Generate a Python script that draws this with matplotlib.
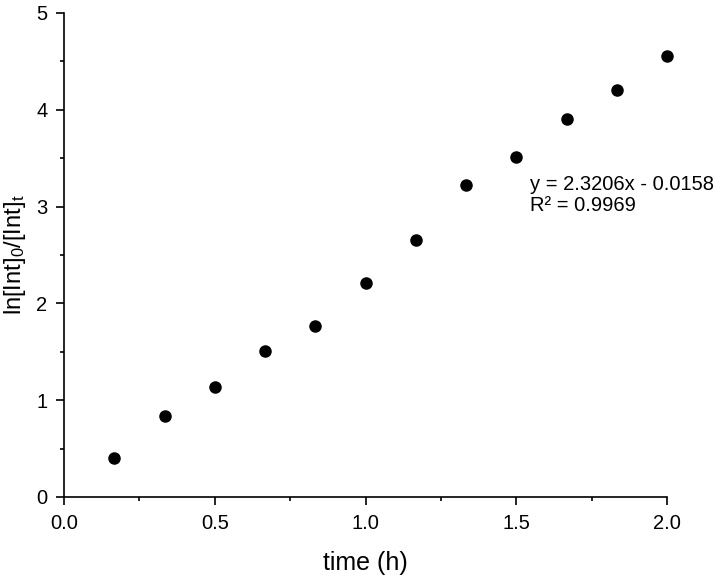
import matplotlib
matplotlib.use("Agg")
import matplotlib.pyplot as plt
from matplotlib.ticker import MultipleLocator, FormatStrFormatter

time_h = [1/6, 2/6, 3/6, 4/6, 5/6, 1.0, 7/6, 8/6, 9/6, 10/6, 11/6, 2.0]
ln_ratio = [0.40, 0.84, 1.14, 1.51, 1.77, 2.21, 2.66, 3.22, 3.51, 3.91, 4.20, 4.56]
eq_text = "y = 2.3206x - 0.0158\nR² = 0.9969"

plt.rcParams['font.family'] = ['Liberation Sans', 'DejaVu Sans']
plt.rcParams['mathtext.default'] = 'regular'

fig = plt.figure(figsize=(7.2, 5.76), dpi=100)
ax = fig.add_axes([64/720, 1-497/576, (667-64)/720, (497-13)/576])

ax.plot(time_h, ln_ratio, 'o', color='black', markersize=8, clip_on=False)

ax.set_xlim(0, 2.0)
ax.set_ylim(0, 5)
ax.xaxis.set_major_locator(MultipleLocator(0.5))
ax.xaxis.set_minor_locator(MultipleLocator(0.25))
ax.yaxis.set_major_locator(MultipleLocator(1))
ax.yaxis.set_minor_locator(MultipleLocator(0.5))
ax.xaxis.set_major_formatter(FormatStrFormatter('%.1f'))

for s in ['top', 'right']:
    ax.spines[s].set_visible(False)
for s in ['left', 'bottom']:
    ax.spines[s].set_linewidth(1.2)

ax.tick_params(which='major', direction='out', length=6, width=1.2, labelsize=14.5, pad=6)
ax.tick_params(which='minor', direction='out', length=3, width=1.2)

ax.set_xlabel('time (h)', fontsize=18, labelpad=13)
ax.set_ylabel(r'ln[Int]$_0$/[Int]$_t$', fontsize=17, labelpad=6)

ax.text(1.547, 3.12, eq_text, fontsize=14.5, va='center', ha='left', linespacing=1.1)

fig.savefig('out.png', dpi=100)
